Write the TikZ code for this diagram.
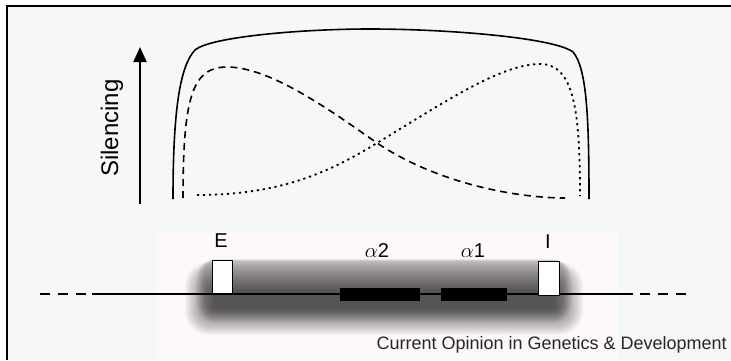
\documentclass[tikz,border=0pt]{standalone}
\usepackage{fontspec}
\setmainfont{Liberation Sans}
\usetikzlibrary{arrows.meta}
\definecolor{bgin}{HTML}{F6F7F9}
\definecolor{pinkbg}{HTML}{FDF8FC}
\tikzset{
  curve/.style={line width=1.6pt, line cap=butt},
  genebox/.style={draw=black, line width=1pt, fill=white, minimum width=20pt, minimum height=33pt, inner sep=0pt},
  genebar/.style={fill=black, minimum height=13pt, inner sep=0pt},
  lbl/.style={font=\fontsize{20}{24}\selectfont, inner sep=0pt},
  dna/.style={line width=1.6pt}
}
\begin{document}
\begin{tikzpicture}[x=1pt,y=-1pt]
\useasboundingbox (0,0) rectangle (731,360);
\fill[white] (0,0) rectangle (731,360);
\fill[bgin] (7,6) rectangle (731,360);
\draw[line width=1.2pt] (7,360) -- (7,6) -- (731,6);
\fill[pinkbg] (157,232) rectangle (618,360);
% blurred shadow
\foreach \i in {0,...,7}{
  \fill[black, opacity=0.03, rounded corners={max(4,20-1.5*\i)}]
    ({196+1.2*\i},{259+0.3*\i}) rectangle ({572-1.2*\i},{322-1.5*\i});
}
\foreach \i in {0,...,19}{
  \fill[black, opacity=0.035, rounded corners={max(4,24-1.1*\i)}]
    ({185+1.5*\i},{262+1.5*\i}) rectangle ({583-1.5*\i},{335-1.4*\i});
}
% curves
\draw[curve] (173,199) .. controls (173,110) and (180,66) .. (195,50)
  .. controls (210,37) and (300,29) .. (370,29)
  .. controls (450,29) and (555,38) .. (573,52)
  .. controls (587,68) and (589,120) .. (589,199);
\draw[curve, dash pattern=on 7pt off 5pt] (183,198) .. controls (183,95) and (193,67) .. (227,67)
  .. controls (270,67) and (330,110) .. (377,143)
  .. controls (440,185) and (520,198) .. (565,198);
\draw[curve, line width=1.8pt, dash pattern=on 2.2pt off 3.8pt] (197,195) .. controls (280,195) and (330,172) .. (377,143)
  .. controls (440,105) and (500,64) .. (540,64)
  .. controls (574,64) and (580,110) .. (580,196);
% axis
\coordinate (ab) at (140,204);
\coordinate (at) at (140,47);
\draw[line width=2pt, -{Triangle[width=13pt,length=15pt]}] (ab) -- (at);
\node[rotate=90, font=\fontsize{24}{28}\selectfont, inner sep=0pt] (sil) at (112,128) {Silencing};
% DNA line
\coordinate (l0) at (40,294);
\coordinate (l1) at (88,294);
\coordinate (l2) at (92,294);
\coordinate (r0) at (633,294);
\coordinate (r1) at (640,294);
\coordinate (r2) at (688,294);
\draw[dna, dash pattern=on 10pt off 8pt] (l0) -- (l1);
\draw[dna] (l2) -- (r0);
\draw[dna, dash pattern=on 10pt off 8pt] (r1) -- (r2);
\node[genebox] (E) at (222,276.5) {};
\node[genebox, minimum width=21pt, minimum height=34pt] (I) at (548.5,278) {};
\node[genebar, minimum width=80pt] (a2) at (380,294.5) {};
\node[genebar, minimum width=66pt] (a1) at (474,294.5) {};
\node[lbl] (El) at (221,241) {E};
\node[lbl] (Il) at (548,242) {I};
\node[lbl] (a2l) at (377,251) {$\alpha$2};
\node[lbl] (a1l) at (473,251) {$\alpha$1};
\node[anchor=base east, font=\fontsize{18}{22}\selectfont, inner sep=0pt, text=black!85] (cap) at (727,349) {Current Opinion in Genetics \& Development};
\end{tikzpicture}
\end{document}
